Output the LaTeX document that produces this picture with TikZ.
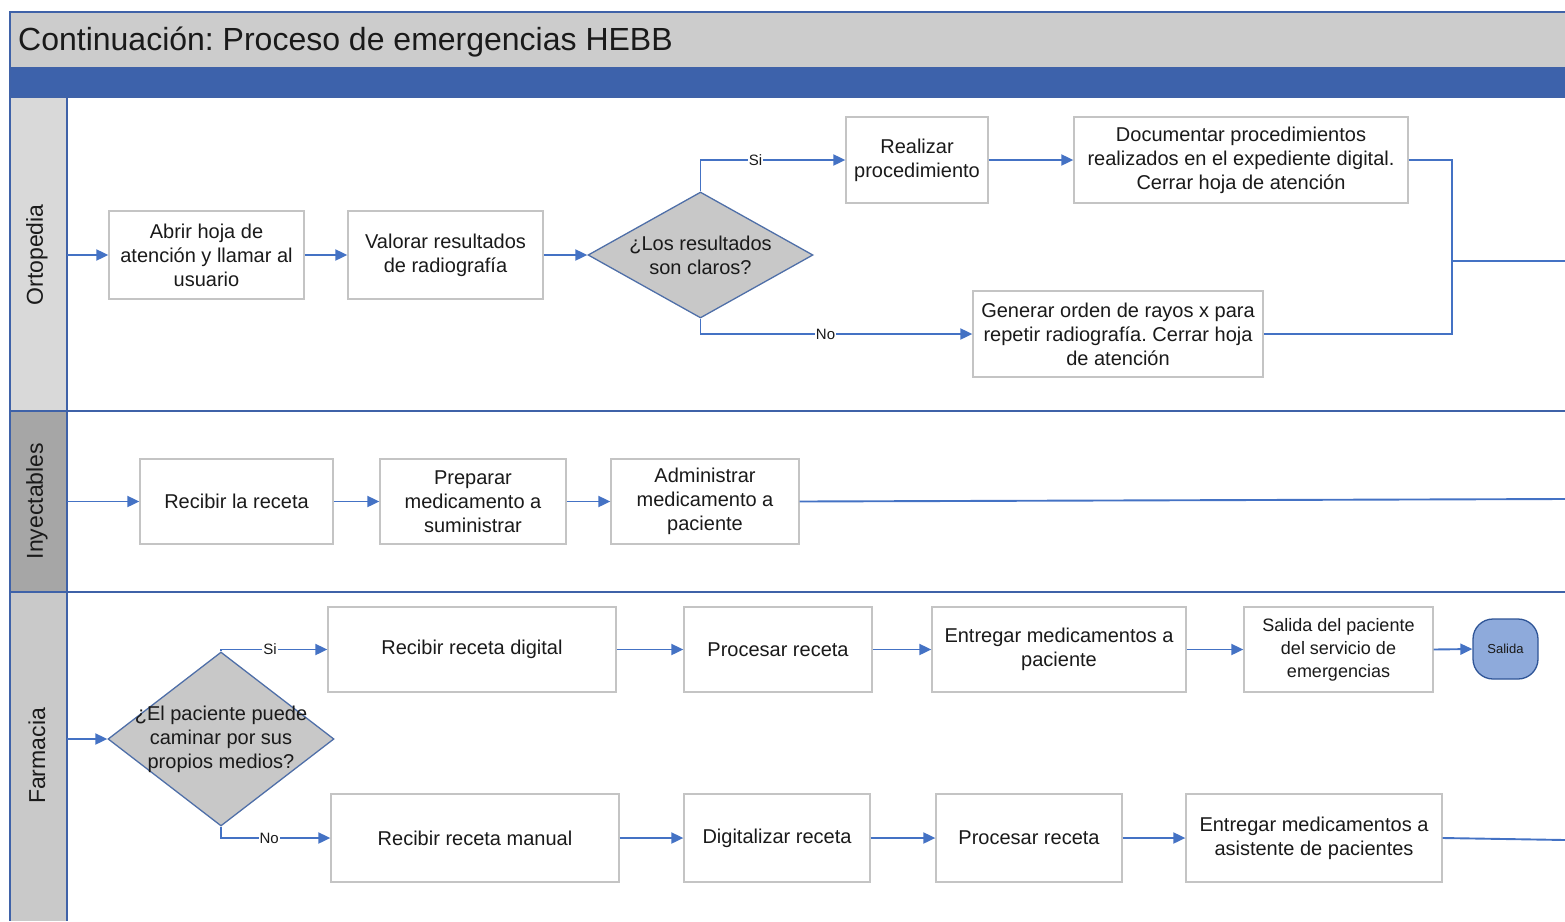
\documentclass[tikz,border=0pt]{standalone}
\usepackage{fontspec}
\setmainfont{Liberation Sans}
\usetikzlibrary{arrows.meta,shapes.geometric}
\definecolor{flowblue}{HTML}{4472C4}
\definecolor{laneline}{HTML}{3F62A8}
\definecolor{barblue}{HTML}{3D62AB}
\definecolor{titlegray}{HTML}{CCCCCC}
\definecolor{boxgray}{HTML}{C4C4C4}
\definecolor{decfill}{HTML}{C8C8C8}
\definecolor{decline}{HTML}{4F6FA8}
\definecolor{exitfill}{HTML}{8EAADB}
\definecolor{exitline}{HTML}{2F5597}
\definecolor{laneA}{HTML}{D9D9D9}
\definecolor{laneB}{HTML}{A6A6A6}
\definecolor{laneC}{HTML}{C9C9C9}
\definecolor{txt}{HTML}{1A1A1A}
\frenchspacing
\begin{document}
\begin{tikzpicture}[x=1pt,y=-1pt,
  box/.style={draw=boxgray, line width=1.3pt, fill=white, align=center,
    inner sep=0pt, text=txt, font=\fontsize{20}{24}\selectfont},
  dec/.style={diamond, draw=decline, line width=1.3pt, fill=decfill, inner sep=0pt},
  dectext/.style={align=center, text=txt, font=\fontsize{20}{24}\selectfont},
  exitbox/.style={draw=exitline, line width=1.3pt, fill=exitfill, rounded corners=20pt,
    inner sep=0pt, text=txt, font=\fontsize{13}{13}\selectfont},
  flow/.style={draw=flowblue, line width=1.9pt, -{Triangle[length=12pt,width=11pt]}},
  link/.style={draw=flowblue, line width=1.9pt},
  tag/.style={fill=white, inner sep=1pt, text=txt, font=\fontsize{15}{15}\selectfont},
  lanetitle/.style={rotate=90, text=txt, font=\fontsize{23}{23}\selectfont},
  lanerule/.style={draw=laneline, line width=1.7pt},
]
\useasboundingbox (0,0) rectangle (1565,921);

% header and swimlane backgrounds
\fill[titlegray] (10,12) rectangle (1565,68);
\fill[barblue] (10,68) rectangle (1565,97);
\fill[laneA] (10,97) rectangle (67,411);
\fill[laneB] (10,411) rectangle (67,592);
\fill[laneC] (10,592) rectangle (67,921);
\draw[lanerule] (1565,12) -- (10,12) -- (10,921);
\draw[lanerule] (10,68) -- (1565,68);
\draw[lanerule] (10,97) -- (1565,97);
\draw[lanerule] (67,97) -- (67,921);
\draw[lanerule] (10,411) -- (1565,411);
\draw[lanerule] (10,592) -- (1565,592);

\node[anchor=base west, text=txt, font=\fontsize{32}{32}\selectfont, inner sep=0pt]
  (title) at (18,50) {Continuación: Proceso de emergencias HEBB};

\node[lanetitle] (laneO) at (37,255) {Ortopedia};
\node[lanetitle] (laneI) at (37,501) {Inyectables};
\node[lanetitle] (laneF) at (37,756) {Farmacia};

% Ortopedia
\node[box, minimum width=195pt, minimum height=88pt] (a1) at (206.5,255)
  {Abrir hoja de\\atención y llamar al\\usuario};
\node[box, minimum width=195pt, minimum height=88pt] (a2) at (445.5,255)
  {Valorar resultados\\de radiografía};
\node[dec, minimum width=225pt, minimum height=126pt] (d1) at (700.5,255) {};
\node[dectext] (d1t) at (d1.center) {¿Los resultados\\son claros?};
\node[box, minimum width=142pt, minimum height=86pt] (a3) at (917,160)
  {Realizar\\procedimiento};
\node[box, minimum width=334pt, minimum height=86pt] (a4) at (1241,160)
  {Documentar procedimientos\\realizados en el expediente digital.\\Cerrar hoja de atención};
\node[box, minimum width=290pt, minimum height=86pt] (a5) at (1118,334)
  {Generar orden de rayos x para\\repetir radiografía. Cerrar hoja\\de atención};
\coordinate (inO) at (67,255);
\coordinate (jn) at (1452,261);
\coordinate (outO) at (1565,261);

\draw[flow] (inO) -- (a1.west);
\draw[flow] (a1.east) -- (a2.west);
\draw[flow] (a2.east) -- (d1.west);
\draw[flow] (d1.north) |- node[tag, pos=0.69] {Si} (a3.west);
\draw[flow] (d1.south) |- node[tag, pos=0.73] {No} (a5.west);
\draw[flow] (a3.east) -- (a4.west);
\draw[link] (a4.east) -| (jn) |- (a5.east);
\draw[link] (jn) -- (outO);

% Inyectables
\node[box, minimum width=193pt, minimum height=85pt] (b1) at (236.5,501.5) {Recibir la receta};
\node[box, minimum width=186pt, minimum height=85pt] (b2) at (473,501.5)
  {Preparar\\medicamento a\\suministrar};
\node[box, minimum width=188pt, minimum height=85pt] (b3) at (705,501.5)
  {Administrar\\medicamento a\\paciente};
\coordinate (inI) at (67,501.5);
\coordinate (outI) at (1565,499);
\draw[flow] (inI) -- (b1.west);
\draw[flow] (b1.east) -- (b2.west);
\draw[flow] (b2.east) -- (b3.west);
\draw[link] (b3.east) -- (outI);

% Farmacia
\node[dec, minimum width=226pt, minimum height=174pt] (d2) at (221,739) {};
\node[dectext] (d2t) at (d2.center) {¿El paciente puede\\caminar por sus\\propios medios?};
\node[box, minimum width=288pt, minimum height=85pt] (c1) at (472,649.5) {Recibir receta digital};
\node[box, minimum width=188pt, minimum height=85pt] (c2) at (778,649.5) {Procesar receta};
\node[box, minimum width=254pt, minimum height=85pt] (c3) at (1059,649.5)
  {Entregar medicamentos a\\paciente};
\node[box, minimum width=189pt, minimum height=85pt, font=\fontsize{18}{23}\selectfont]
  (c4) at (1338.5,649.5) {Salida del paciente\\del servicio de\\emergencias};
\node[exitbox, minimum width=65pt, minimum height=60pt] (c5) at (1505.5,649) {Salida};
\node[box, minimum width=288pt, minimum height=88pt] (e1) at (475,838) {Recibir receta manual};
\node[box, minimum width=186pt, minimum height=88pt] (e2) at (777,838) {Digitalizar receta};
\node[box, minimum width=186pt, minimum height=88pt] (e3) at (1029,838) {Procesar receta};
\node[box, minimum width=256pt, minimum height=88pt] (e4) at (1314,838)
  {Entregar medicamentos a\\asistente de pacientes};
\coordinate (inF) at (67,739);
\coordinate (outF) at (1565,840);

\draw[flow] (inF) -- (d2.west);
\draw[flow] (d2.north) |- node[tag, pos=0.73] {Si} (c1.west);
\draw[flow] (d2.south) |- node[tag, pos=0.72] {No} (e1.west);
\draw[flow] (c1.east) -- (c2.west);
\draw[flow] (c2.east) -- (c3.west);
\draw[flow] (c3.east) -- (c4.west);
\draw[flow] (c4.east) -- (c5.west);
\draw[flow] (e1.east) -- (e2.west);
\draw[flow] (e2.east) -- (e3.west);
\draw[flow] (e3.east) -- (e4.west);
\draw[link] (e4.east) -- (outF);
\end{tikzpicture}
\end{document}
